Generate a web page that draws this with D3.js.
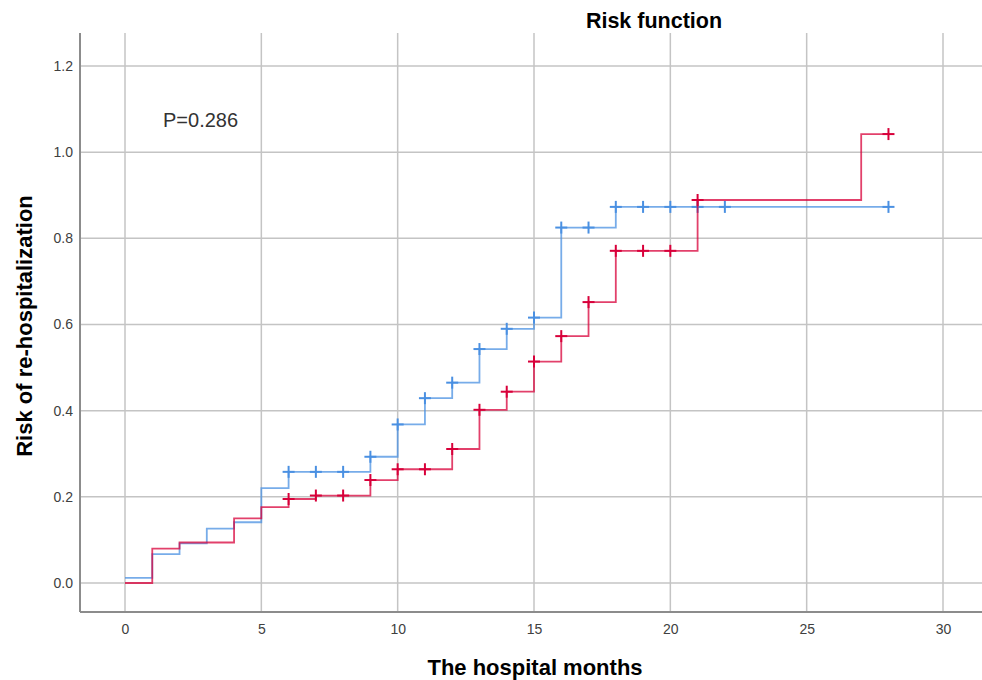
<!DOCTYPE html>
<html><head><meta charset="utf-8">
<script src="https://cdn.jsdelivr.net/npm/d3@7/dist/d3.min.js"></script>
<style>body{margin:0;background:#fff;font-family:"Liberation Sans",Arial,sans-serif;}</style>
</head><body><svg id="c" width="982" height="680"></svg>
<script>
// Step data: [time, cumulative risk after the step]
const blueSteps = [[0,0.012],[1,0.067],[2,0.092],[3,0.126],[4,0.141],[5,0.220],[6,0.258],[9,0.293],[10,0.368],[11,0.429],[12,0.465],[13,0.543],[14,0.590],[15,0.616],[16,0.825],[18,0.873],[28,0.873]];
const redSteps  = [[0,0.0],[1,0.080],[2,0.094],[4,0.150],[5,0.176],[6,0.195],[7,0.203],[9,0.239],[10,0.264],[12,0.311],[13,0.402],[14,0.444],[15,0.514],[16,0.573],[17,0.652],[18,0.771],[21,0.889],[27,1.042],[28,1.042]];
const blueCensor = [6,7,8,9,10,11,12,13,14,15,16,17,18,19,20,21,22,28];
const redCensor  = [6,7,8,9,10,11,12,13,14,15,16,17,18,19,20,21,28];
const xTicks = [0,5,10,15,20,25,30];
const yTicks = [0.0,0.2,0.4,0.6,0.8,1.0,1.2];
const pText = "P=0.286";

const svg = d3.select("#c");
const x = d3.scaleLinear().domain([0,30]).range([125,943]);
const y = d3.scaleLinear().domain([0,1.2]).range([583,66]);
const L=80, R=982, T=33, B=612;

// gridlines
svg.append("g").selectAll("line").data(yTicks).join("line")
  .attr("x1",L).attr("x2",R).attr("y1",d=>y(d)).attr("y2",d=>y(d))
  .attr("stroke","#c4c4c4").attr("stroke-width",1.5);
svg.append("g").selectAll("line").data(xTicks).join("line")
  .attr("x1",d=>x(d)).attr("x2",d=>x(d)).attr("y1",T).attr("y2",B)
  .attr("stroke","#c4c4c4").attr("stroke-width",1.5);

// axes
const gx = svg.append("g").attr("transform",`translate(0,${B})`)
  .call(d3.axisBottom(x).tickValues(xTicks).tickSize(0).tickPadding(12).tickFormat(d3.format("d")));
gx.select(".domain").remove();
const gy = svg.append("g").attr("transform",`translate(${L},0)`)
  .call(d3.axisLeft(y).tickValues(yTicks).tickSize(0).tickPadding(7).tickFormat(d3.format(".1f")));
gy.select(".domain").remove();
svg.selectAll(".tick text").attr("font-family","Liberation Sans, Arial, sans-serif").attr("font-size",14).attr("fill","#404040");
svg.append("line").attr("x1",L).attr("x2",R).attr("y1",B).attr("y2",B).attr("stroke","#8c8c8c").attr("stroke-width",2);
svg.append("line").attr("x1",L).attr("x2",L).attr("y1",T).attr("y2",B).attr("stroke","#8c8c8c").attr("stroke-width",2);

function stepVal(steps,t){let v=steps[0][1];for(const s of steps){if(s[0]<=t)v=s[1];}return v;}
function drawSeries(steps,censor,color){
  const line = d3.line().x(d=>x(d[0])).y(d=>y(d[1])).curve(d3.curveStepAfter);
  svg.append("path").datum(steps).attr("d",line).attr("fill","none")
    .attr("stroke",color).attr("stroke-width",1.8).attr("stroke-opacity",0.75);
  const g = svg.append("g").attr("stroke",color).attr("stroke-width",2);
  censor.forEach(t=>{
    const cx=x(t), cy=y(stepVal(steps,t));
    g.append("line").attr("x1",cx-6).attr("x2",cx+6).attr("y1",cy).attr("y2",cy);
    g.append("line").attr("x1",cx).attr("x2",cx).attr("y1",cy-6).attr("y2",cy+6);
  });
}
drawSeries(blueSteps,blueCensor,"#4a90e2");
drawSeries(redSteps,redCensor,"#d8003a");

svg.append("text").attr("x",163).attr("y",127).attr("font-size",20).attr("fill","#333").text(pText);
svg.append("text").attr("x",654).attr("y",28).attr("text-anchor","middle").attr("font-size",21.5).attr("font-weight","bold").attr("fill","#000").text("Risk function");
svg.append("text").attr("x",535).attr("y",675).attr("text-anchor","middle").attr("font-size",22).attr("font-weight","bold").attr("fill","#000").text("The hospital months");
svg.append("text").attr("transform","translate(32,326) rotate(-90)").attr("text-anchor","middle").attr("font-size",22).attr("font-weight","bold").attr("fill","#000").text("Risk of re-hospitalization");
</script></body></html>
